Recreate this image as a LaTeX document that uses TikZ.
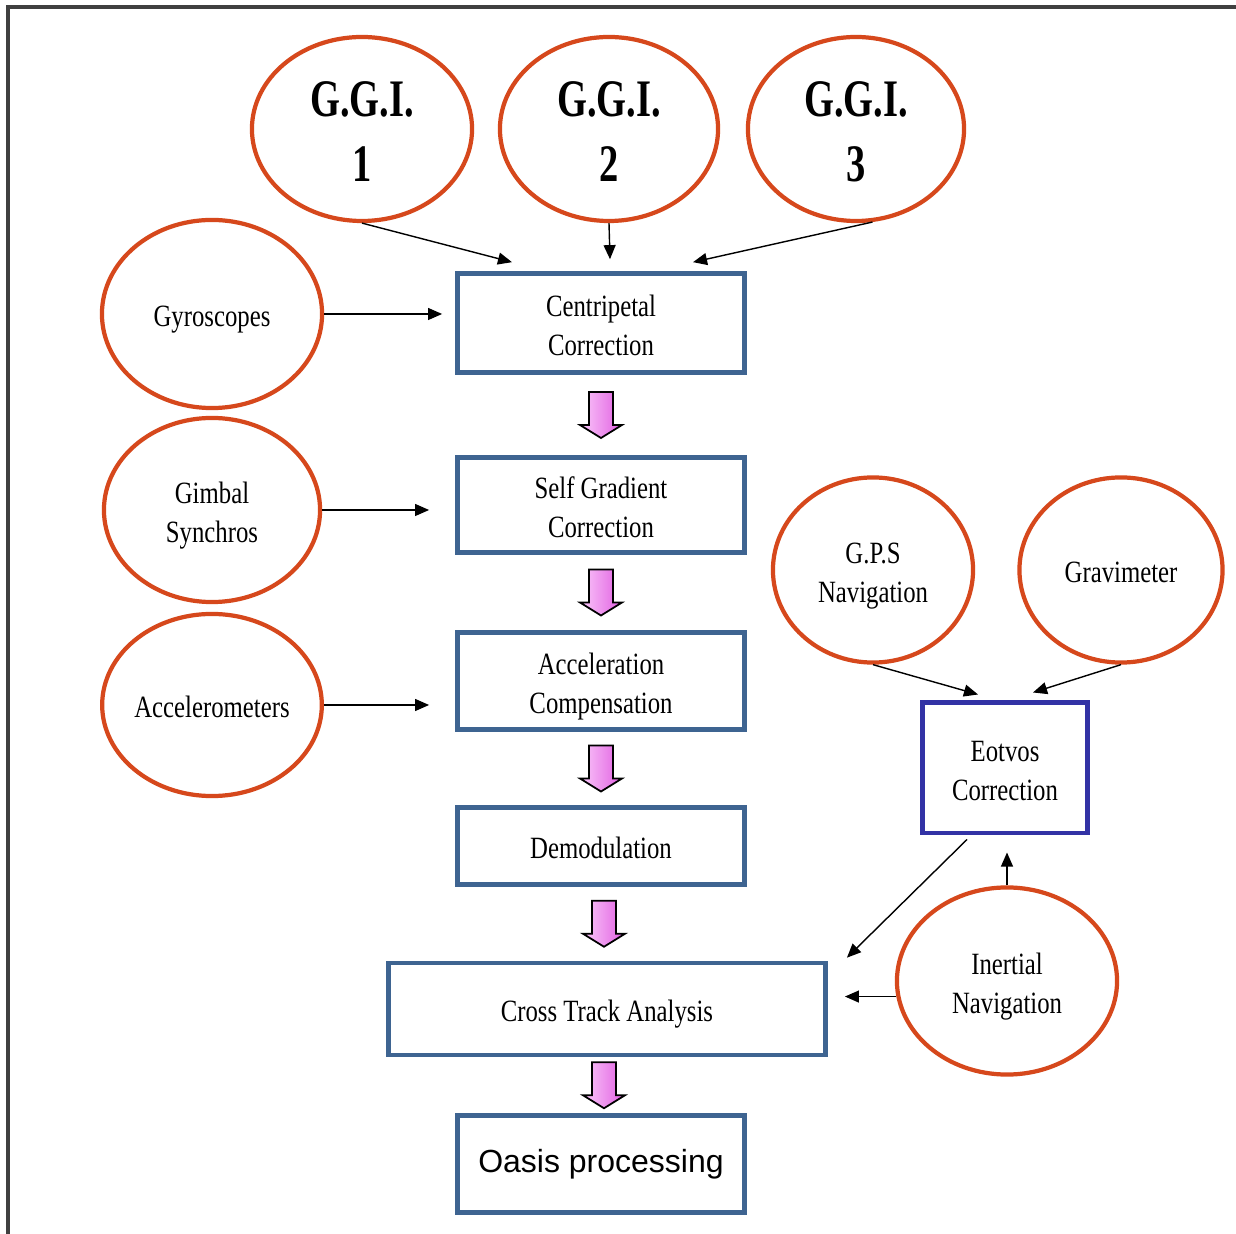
\documentclass[tikz,border=0pt]{standalone}
\usepackage{fontspec}
\setmainfont{Liberation Serif}
\newfontfamily\arialf{Liberation Sans}
\usetikzlibrary{shapes.geometric,arrows.meta,calc}
\definecolor{ellred}{RGB}{214,72,28}
\definecolor{boxblue}{RGB}{62,100,145}
\definecolor{eoblue}{RGB}{50,50,165}
\definecolor{pinkL}{RGB}{250,200,250}
\definecolor{pinkD}{RGB}{225,95,225}
\newcommand\lbl[1]{\raisebox{-1.4pt}[\height][\depth]{\scalebox{0.8}[1]{\fontsize{8.8}{11.1}\selectfont\begin{tabular}{@{}c@{}}#1\end{tabular}}}}
\newcommand\ggl[1]{\raisebox{-1.9pt}[\height][\depth]{\scalebox{0.73}[1]{\fontsize{15}{18.5}\selectfont\bfseries\begin{tabular}{@{}c@{}}G.G.I.\\#1\end{tabular}}}}
\tikzset{
  ell/.style={ellipse, draw=ellred, line width=1.2pt, fill=white, inner sep=0pt},
  box/.style={rectangle, draw=boxblue, line width=1.3pt, fill=white, inner sep=0pt},
  eobox/.style={rectangle, draw=eoblue, line width=1.4pt, fill=white, inner sep=0pt},
  conn/.style={-{Triangle[length=4pt,width=3.4pt]}, line width=0.4pt, black},
  pinkarrow/.pic={\draw[line width=0.5pt, left color=pinkL, right color=pinkD]
     (-12,-23) -- (12,-23) -- (12,10) -- (21,10) -- (0,23) -- (-21,10) -- (-12,10) -- cycle;}
}
\begin{document}
\begin{tikzpicture}[x=0.01cm,y=-0.01cm]
\useasboundingbox (0,0) rectangle (1236,1234);
\fill[white] (0,0) rectangle (1236,1234);
\draw[line width=1pt, black!75] (8,1234) -- (8,7) -- (1236,7);

% GGI ellipses
\node[ell, minimum width=2.20cm, minimum height=1.82cm] (g1) at (362,129) {\ggl{1}};
\node[ell, minimum width=2.18cm, minimum height=1.82cm] (g2) at (609,129) {\ggl{2}};
\node[ell, minimum width=2.16cm, minimum height=1.82cm] (g3) at (856,129) {\ggl{3}};

% left ellipses
\node[ell, minimum width=2.20cm, minimum height=1.88cm] (gy) at (212,314) {\lbl{Gyroscopes}};
\node[ell, minimum width=2.16cm, minimum height=1.84cm] (gs) at (212,510) {\lbl{Gimbal\\Synchros}};
\node[ell, minimum width=2.16cm, minimum height=1.82cm] (ac) at (212,705) {\lbl{Accelerometers}};

% main boxes
\node[box, minimum width=2.87cm, minimum height=0.99cm] (c1) at (601,323) {\lbl{Centripetal\\Correction}};
\node[box, minimum width=2.87cm, minimum height=0.95cm] (c2) at (601,505) {\lbl{Self Gradient\\Correction}};
\node[box, minimum width=2.87cm, minimum height=0.97cm] (c3) at (601,681) {\lbl{Acceleration\\Compensation}};
\node[box, minimum width=2.87cm, minimum height=0.77cm] (c4) at (601,846) {\lbl{Demodulation}};
\node[box, minimum width=4.37cm, minimum height=0.92cm] (cr) at (607,1009) {\lbl{Cross Track Analysis}};
\node[box, minimum width=2.87cm, minimum height=0.97cm] (oa) at (601,1164) {\arialf\fontsize{9.1}{11}\selectfont Oasis processing};

% right side
\node[ell, minimum width=2.00cm, minimum height=1.85cm] (gps) at (873,570) {\lbl{G.P.S\\Navigation}};
\node[ell, minimum width=2.03cm, minimum height=1.85cm] (gr) at (1121,570) {\lbl{Gravimeter}};
\node[eobox, minimum width=1.65cm, minimum height=1.30cm] (eo) at (1005,768) {\lbl{Eotvos\\Correction}};
\node[ell, minimum width=2.20cm, minimum height=1.87cm] (in) at (1007,981) {\lbl{Inertial\\Navigation}};

% pink block arrows
\path ($(c1.south)!0.5!(c2.north)$) pic {pinkarrow};
\path ($(c2.south)!0.5!(c3.north)$) pic {pinkarrow};
\path ($(c3.south)!0.5!(c4.north)$) pic {pinkarrow};
\path ($(c4.south)!0.5!(cr.north)$) pic {pinkarrow};
\path ($(cr.south)!0.5!(oa.north)$) pic {pinkarrow};

% connectors
\draw[conn] (g1.south) -- ($(c1.north)+(-89,-9)$);
\draw[conn] (g2.south) -- ($(c1.north)+(9,-12)$);
\draw[conn] (g3.-80) -- ($(c1.north)+(92,-9)$);
\draw[conn, shorten >=0.13cm] (gy.east) -- (gy.east -| c1.west);
\draw[conn, shorten >=0.26cm] (gs.east) -- (gs.east -| c2.west);
\draw[conn, shorten >=0.26cm] (ac.east) -- (ac.east -| c3.west);
\draw[conn] (gps.south) -- ($(eo.north)+(-27,-6)$);
\draw[conn] (gr.south) -- ($(eo.north)+(28,-8)$);
\draw[conn] ($(eo.south)+(-38,4)$) -- ($(cr.north east)+(19,-3)$);
\draw[conn, shorten >=0.17cm] (in.north) -- (in.north |- eo.south);
\draw[conn, shorten >=0.17cm] (in.188) -- (in.188 -| cr.east);
\end{tikzpicture}
\end{document}
